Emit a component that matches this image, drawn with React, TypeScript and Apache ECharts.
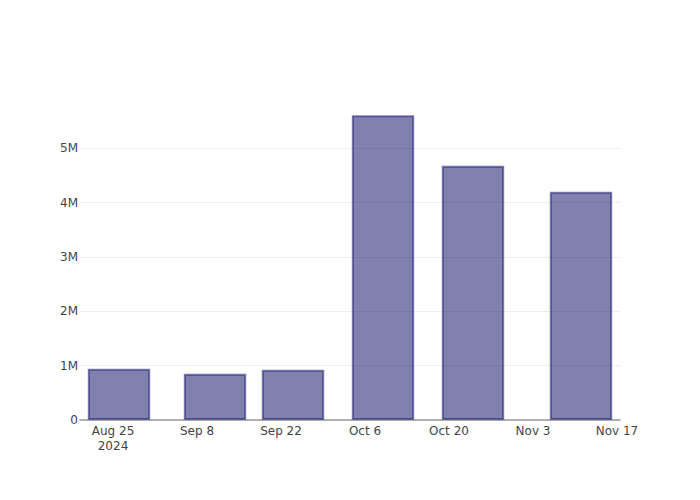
import React, { useEffect, useRef } from "react";
import * as echarts from "echarts";

const barDates = ["2024-08-26", "2024-09-11", "2024-09-24", "2024-10-09", "2024-10-24", "2024-11-11"];
const barValues = [945000, 853000, 926000, 5610000, 4680000, 4200000];
const xTickDates = ["2024-08-25", "2024-09-08", "2024-09-22", "2024-10-06", "2024-10-20", "2024-11-03", "2024-11-17"];
const xTickLabels = ["Aug 25\n2024", "Sep 8", "Sep 22", "Oct 6", "Oct 20", "Nov 3", "Nov 17"];
const yTickValues = [0, 1000000, 2000000, 3000000, 4000000, 5000000];
const yTickLabels = ["0", "1M", "2M", "3M", "4M", "5M"];

const DAY = 86400000;
const ts = (s: string) => Date.UTC(+s.slice(0, 4), +s.slice(5, 7) - 1, +s.slice(8, 10));

export default function App() {
  const ref = useRef<HTMLDivElement>(null);
  useEffect(() => {
    if (!ref.current) return;
    const chart = echarts.init(ref.current, undefined, { renderer: "svg" });
    const xs = barDates.map(ts);
    const xMin = xs[0] - 6.5 * DAY;
    const xMax = xs[xs.length - 1] + 6.5 * DAY;
    const yMax = Math.max(...barValues) * 1.05;
    const xTicks = xTickDates.map(ts);
    const font = { fontFamily: "'DejaVu Sans', verdana, arial, sans-serif", fontSize: 12, color: "#444" };
    chart.setOption({
      animation: false,
      grid: { left: 80, right: 80, top: 100, bottom: 80, containLabel: false, outerBoundsMode: "none" },
      xAxis: {
        type: "value",
        min: xMin,
        max: xMax,
        axisLine: { show: true, onZero: false, lineStyle: { color: "#999", width: 1.5 } },
        axisTick: { show: false, customValues: xTicks },
        splitLine: { show: false },
        axisLabel: {
          ...font,
          margin: 3,
          lineHeight: 15,
          customValues: xTicks,
          formatter: (v: number) => {
            const i = xTicks.findIndex((t) => Math.abs(t - v) < DAY / 2);
            return i >= 0 ? xTickLabels[i] : "";
          },
          hideOverlap: false,
        },
      },
      yAxis: {
        type: "value",
        min: 0,
        max: yMax,
        axisLine: { show: false },
        axisTick: { show: false, customValues: yTickValues },
        splitLine: { show: true, lineStyle: { color: "#eeeeee", width: 1 }, customValues: yTickValues },
        axisLabel: {
          ...font,
          margin: 2,
          customValues: yTickValues,
          formatter: (v: number) => {
            const i = yTickValues.indexOf(v);
            return i >= 0 ? yTickLabels[i] : "";
          },
        },
      },
      series: [
        {
          type: "bar",
          barWidth: 62.4,
          data: xs.map((x, i) => [x, barValues[i]]),
          itemStyle: {
            color: "rgba(25,25,112,0.55)",
            borderColor: "rgba(25,25,112,0.55)",
            borderWidth: 2,
          },
        },
      ],
    });
    return () => chart.dispose();
  }, []);
  return <div ref={ref} style={{ position: "absolute", left: 0, top: 0, width: 700, height: 500 }} />;
}
